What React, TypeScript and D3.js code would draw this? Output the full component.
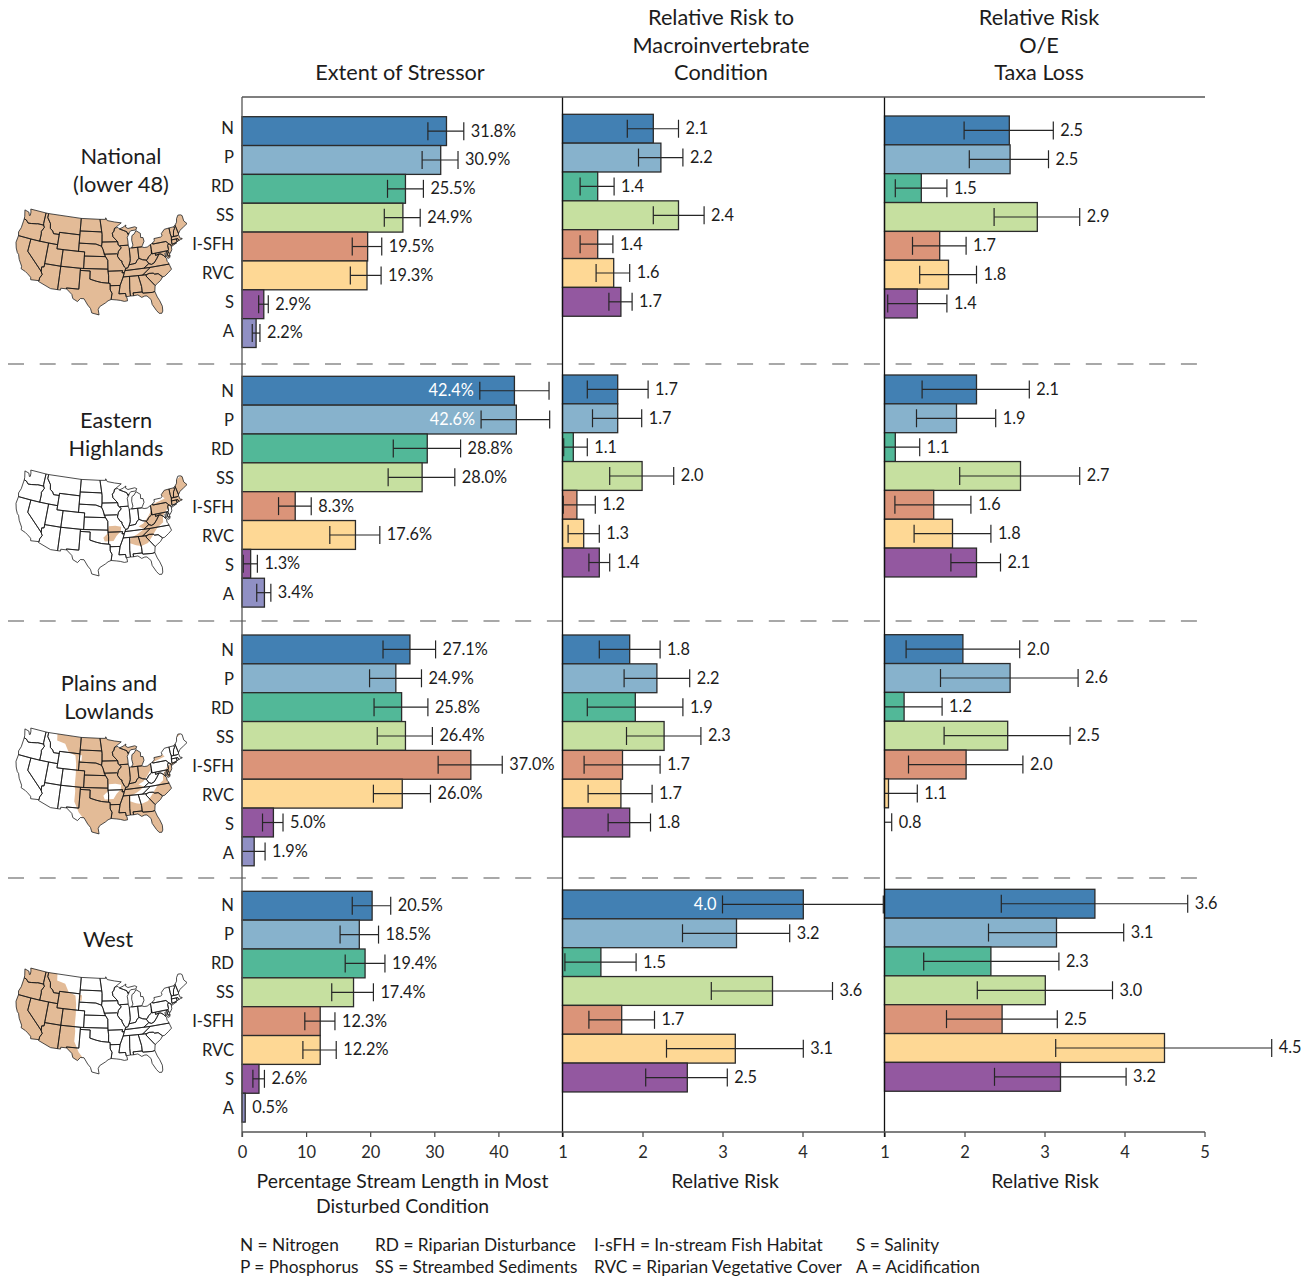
/**
 * Stressor extent and relative risk bars, by region, drawn with D3
 */

import React, { useEffect, useRef } from 'react';
import * as d3 from 'd3';

type Row = [number, number | null, number | null, string]; // bar, low, high, label

const stressors = ['N', 'P', 'RD', 'SS', 'I-SFH', 'RVC', 'S', 'A'];
const stressorColors = ['#4280b3', '#87b2cc', '#52b898', '#c6e0a0', '#db9479', '#fed895', '#9358a0', '#9090c4'];

const extentTicks = [0, 10, 20, 30, 40];
const macroTicks = [1, 2, 3, 4];
const taxaTicks = [1, 2, 3, 4, 5];

const nationalExtent: Row[] = [
  [31.9, 29.0, 34.6, '31.8%'], [31.0, 28.1, 33.7, '30.9%'], [25.5, 22.7, 28.3, '25.5%'], [25.1, 22.2, 27.8, '24.9%'],
  [19.6, 17.2, 21.8, '19.5%'], [19.5, 16.9, 21.7, '19.3%'], [3.4, 2.6, 4.1, '2.9%'], [2.2, 1.6, 2.8, '2.2%'],
];
const easternExtent: Row[] = [
  [42.5, 37.1, 47.9, '42.4%'], [42.8, 37.3, 48.0, '42.6%'], [28.9, 23.6, 34.1, '28.8%'], [28.1, 22.8, 33.2, '28.0%'],
  [8.3, 5.7, 10.8, '8.3%'], [17.7, 13.7, 21.5, '17.6%'], [1.35, 0.2, 2.4, '1.3%'], [3.5, 2.3, 4.5, '3.4%'],
];
const plainsExtent: Row[] = [
  [26.2, 22.0, 30.2, '27.1%'], [24.0, 19.9, 28.0, '24.9%'], [24.9, 20.6, 29.0, '25.8%'], [25.5, 21.1, 29.7, '26.4%'],
  [35.7, 30.6, 40.6, '37.0%'], [25.0, 20.5, 29.4, '26.0%'], [4.9, 3.2, 6.4, '5.0%'], [1.9, 0, 3.6, '1.9%'],
];
const westExtent: Row[] = [
  [20.3, 17.2, 23.2, '20.5%'], [18.3, 15.3, 21.3, '18.5%'], [19.2, 16.1, 22.3, '19.4%'], [17.4, 14.0, 20.5, '17.4%'],
  [12.2, 9.8, 14.5, '12.3%'], [12.2, 9.5, 14.7, '12.2%'], [2.65, 1.7, 3.5, '2.6%'], [0.5, null, null, '0.5%'],
];

const nationalMacro: Row[] = [
  [2.135, 1.81, 2.45, '2.1'], [2.23, 1.95, 2.505, '2.2'], [1.44, 1.22, 1.645, '1.4'], [2.45, 2.135, 2.77, '2.4'],
  [1.44, 1.22, 1.63, '1.4'], [1.64, 1.42, 1.84, '1.6'], [1.73, 1.58, 1.87, '1.7'],
];
const easternMacro: Row[] = [
  [1.69, 1.31, 2.07, '1.7'], [1.69, 1.375, 1.99, '1.7'], [1.135, 1.015, 1.31, '1.1'], [1.995, 1.59, 2.39, '2.0'],
  [1.18, 1.01, 1.41, '1.2'], [1.265, 1.07, 1.46, '1.3'], [1.46, 1.33, 1.59, '1.4'],
];
const plainsMacro: Row[] = [
  [1.84, 1.46, 2.22, '1.8'], [2.18, 1.77, 2.59, '2.2'], [1.91, 1.31, 2.505, '1.9'], [2.27, 1.80, 2.73, '2.3'],
  [1.75, 1.27, 2.22, '1.7'], [1.73, 1.32, 2.12, '1.7'], [1.84, 1.57, 2.10, '1.8'],
];
const westMacro: Row[] = [
  [4.01, 3.0, 5.01, '4.0'], [3.175, 2.5, 3.84, '3.2'], [1.48, 1.03, 1.92, '1.5'], [3.625, 2.86, 4.375, '3.6'],
  [1.74, 1.33, 2.15, '1.7'], [3.16, 2.30, 4.01, '3.1'], [2.56, 2.04, 3.06, '2.5'],
];

const nationalTaxa: Row[] = [
  [2.56, 1.995, 3.11, '2.5'], [2.57, 2.06, 3.05, '2.5'], [1.46, 1.135, 1.78, '1.5'], [2.91, 2.37, 3.44, '2.9'],
  [1.69, 1.35, 2.02, '1.7'], [1.80, 1.44, 2.15, '1.8'], [1.41, 1.04, 1.78, '1.4'],
];
const easternTaxa: Row[] = [
  [2.15, 1.47, 2.81, '2.1'], [1.90, 1.40, 2.39, '1.9'], [1.135, 0.9, 1.44, '1.1'], [2.70, 1.94, 3.44, '2.7'],
  [1.615, 1.13, 2.08, '1.6'], [1.85, 1.37, 2.33, '1.8'], [2.15, 1.83, 2.45, '2.1'],
];
const plainsTaxa: Row[] = [
  [1.98, 1.27, 2.69, '2.0'], [2.57, 1.70, 3.42, '2.6'], [1.245, 0.9, 1.72, '1.2'], [2.54, 1.745, 3.32, '2.5'],
  [2.02, 1.30, 2.73, '2.0'], [1.05, 0.9, 1.41, '1.1'], [0.8, 0.7, 1.09, '0.8'],
];
const westTaxa: Row[] = [
  [3.63, 2.46, 4.79, '3.6'], [3.15, 2.30, 3.99, '3.1'], [2.33, 1.49, 3.18, '2.3'], [3.01, 2.16, 3.85, '3.0'],
  [2.47, 1.775, 3.16, '2.5'], [4.5, 3.14, 5.84, '4.5'], [3.2, 2.375, 4.02, '3.2'],
];

// labels that sit inside the bar, to the left of the interval
const insideLabels = ['42.4%', '42.6%', '4.0'];

const regionTitles = [['National', '(lower 48)'], ['Eastern', 'Highlands'], ['Plains and', 'Lowlands'], ['West']];
const legendColumns = [
  ['N = Nitrogen', 'P = Phosphorus'],
  ['RD = Riparian Disturbance', 'SS = Streambed Sediments'],
  ['I-sFH = In-stream Fish Habitat', 'RVC = Riparian Vegetative Cover'],
  ['S = Salinity', 'A = Acidification'],
];

// state outlines, lon/lat
const stateRings: number[][][] = [
  [[-124.7,48.4],[-123.1,48.15],[-122.6,47.4],[-122.3,47.5],[-122.4,48.3],[-122.75,49],[-117.03,49],[-117.04,46.4],[-116.92,45.99],[-118.98,46],[-119.3,45.93],[-121.2,45.65],[-122.3,45.55],[-122.8,45.9],[-123.2,46.15],[-124,46.27],[-124.1,46.9]],
  [[-124,46.27],[-123.2,46.15],[-122.8,45.9],[-122.3,45.55],[-121.2,45.65],[-119.3,45.93],[-118.98,46],[-116.92,45.99],[-116.5,45.5],[-117.2,44.4],[-117.03,43.8],[-117.03,42],[-124.2,42],[-124.55,42.85],[-124.1,44]],
  [[-124.2,42],[-120,42],[-120,39],[-114.63,35],[-114.15,34.3],[-114.7,33.4],[-114.72,32.72],[-117.12,32.53],[-117.3,33.1],[-118.4,33.75],[-119.2,34.15],[-120.6,34.55],[-120.65,35.15],[-121.9,36.6],[-122.5,37.7],[-123,38],[-123.75,39],[-124.35,40.3]],
  [[-120,42],[-114.04,42],[-114.04,36.2],[-114.73,36.1],[-114.63,35],[-120,39]],
  [[-117.03,49],[-116.05,49],[-116.05,48],[-114.7,46.7],[-114.4,45.55],[-113.45,45.05],[-113,44.45],[-111.05,44.48],[-111.05,42],[-117.03,42],[-117.03,43.8],[-117.2,44.4],[-116.5,45.5],[-116.92,45.99],[-117.04,46.4]],
  [[-116.05,49],[-104.05,49],[-104.05,45],[-111.05,45],[-111.05,44.48],[-113,44.45],[-113.45,45.05],[-114.4,45.55],[-114.7,46.7],[-116.05,48]],
  [[-111.05,45],[-104.05,45],[-104.05,41],[-111.05,41]],
  [[-114.04,42],[-111.05,42],[-111.05,41],[-109.05,41],[-109.05,37],[-114.04,37]],
  [[-114.04,37],[-109.05,37],[-109.05,31.33],[-111.07,31.33],[-114.8,32.5],[-114.72,32.72],[-114.7,33.4],[-114.15,34.3],[-114.63,35],[-114.73,36.1],[-114.04,36.2]],
  [[-109.05,41],[-102.05,41],[-102.05,37],[-109.05,37]],
  [[-109.05,37],[-103,37],[-103.04,32],[-106.62,32],[-106.53,31.78],[-108.2,31.78],[-108.2,31.33],[-109.05,31.33]],
  [[-104.05,49],[-97.23,49],[-96.56,45.94],[-104.05,45.94]],
  [[-104.05,45.94],[-96.56,45.94],[-96.45,45.3],[-96.45,43.5],[-96.6,42.5],[-98.5,43],[-104.05,43]],
  [[-104.05,43],[-98.5,43],[-96.6,42.5],[-96.1,41.7],[-95.31,40],[-102.05,40],[-102.05,41],[-104.05,41]],
  [[-102.05,40],[-95.31,40],[-94.62,39.1],[-94.62,37],[-102.05,37]],
  [[-103,37],[-94.62,37],[-94.43,35.4],[-94.48,33.64],[-96.5,33.8],[-98.1,34.1],[-100,34.56],[-100,36.5],[-103,36.5]],
  [[-106.62,32],[-103.04,32],[-103,36.5],[-100,36.5],[-100,34.56],[-98.1,34.1],[-96.5,33.8],[-94.48,33.64],[-94.04,33.55],[-94.04,31.99],[-93.55,31.2],[-93.84,29.7],[-94.7,29.4],[-95.4,28.9],[-97,28],[-97.4,27.3],[-97.15,25.97],[-99.1,26.4],[-99.5,27.5],[-100.3,28.3],[-101.4,29.77],[-102.4,29.77],[-103.15,28.98],[-104.5,29.6],[-104.9,30.6],[-106.53,31.78]],
  [[-97.23,49],[-95.15,49],[-95.15,49.38],[-94.6,48.7],[-92,48.3],[-89.6,48],[-92.1,46.75],[-92.3,46.1],[-92.9,45.6],[-92.75,44.75],[-91.22,43.5],[-96.45,43.5],[-96.45,45.3],[-96.56,45.94]],
  [[-96.45,43.5],[-91.22,43.5],[-91.1,42.7],[-90.15,42],[-91.1,41.2],[-91.42,40.38],[-91.73,40.61],[-95.77,40.58],[-96.1,41.7],[-96.6,42.5]],
  [[-95.77,40.58],[-91.73,40.61],[-91.42,40.38],[-91.5,40],[-90.7,39],[-90.18,38.8],[-90.2,38.4],[-89.5,37.3],[-89.15,37],[-89.7,36],[-90.37,36],[-90.15,36.5],[-94.62,36.5],[-94.62,39.1],[-95.31,40]],
  [[-94.62,36.5],[-90.15,36.5],[-90.37,36],[-89.7,36],[-90.1,35],[-91.15,33],[-94.04,33.02],[-94.04,33.55],[-94.48,33.64],[-94.43,35.4]],
  [[-94.04,33.02],[-91.15,33],[-91.6,31],[-89.73,31],[-89.6,30.2],[-89.4,29.9],[-89.3,29.2],[-90.2,29.1],[-91.3,29.4],[-92.3,29.55],[-93.84,29.7],[-93.55,31.2],[-94.04,31.99]],
  [[-92.3,46.1],[-92.1,46.75],[-90.9,46.95],[-90.4,46.55],[-89.1,46.15],[-87.9,45.75],[-87.6,45.1],[-87.1,45.3],[-87.9,44.4],[-87.8,43.5],[-87.8,42.5],[-90.64,42.5],[-91.1,42.7],[-91.22,43.5],[-92.75,44.75],[-92.9,45.6]],
  [[-90.64,42.5],[-87.8,42.5],[-87.55,41.7],[-87.53,39.3],[-87.6,38.7],[-88.05,37.8],[-88.5,37.1],[-89.15,37],[-89.5,37.3],[-90.2,38.4],[-90.18,38.8],[-90.7,39],[-91.5,40],[-91.42,40.38],[-91.1,41.2],[-90.15,42]],
  [[-87.55,41.7],[-87.2,41.75],[-86.8,41.76],[-84.8,41.76],[-84.82,39.1],[-85.4,38.7],[-86,38],[-87,37.9],[-88.05,37.8],[-87.6,38.7],[-87.53,39.3]],
  [[-84.8,41.76],[-83.45,41.73],[-82.7,41.5],[-81.7,41.5],[-80.52,41.98],[-80.52,40.64],[-80.7,39.7],[-81.7,39.2],[-82.2,38.6],[-82.6,38.45],[-83.7,38.65],[-84.82,39.1]],
  [[-86.8,41.76],[-84.8,41.76],[-83.45,41.73],[-83.15,42.1],[-82.45,43],[-82.6,43.9],[-83.4,44],[-83.3,45],[-84.7,45.78],[-85.5,45],[-86.25,44.7],[-86.5,43.6],[-86.25,42.4]],
  [[-90.4,46.55],[-89.1,46.9],[-88,47.4],[-88.2,46.9],[-87.4,46.5],[-85,46.75],[-84.3,46.5],[-84.7,45.95],[-86.5,45.9],[-87.6,45.1],[-87.9,45.75],[-89.1,46.15]],
  [[-89.15,37],[-88.5,37.1],[-88.05,37.8],[-87,37.9],[-86,38],[-85.4,38.7],[-84.82,39.1],[-83.7,38.65],[-82.6,38.45],[-81.97,37.54],[-83.67,36.6],[-88.07,36.5],[-89.42,36.5]],
  [[-89.42,36.5],[-83.67,36.6],[-81.68,36.59],[-84.32,34.99],[-90.1,35],[-89.7,36]],
  [[-90.1,35],[-88.2,35],[-88.45,31.9],[-88.4,30.3],[-89.6,30.2],[-89.73,31],[-91.6,31],[-91.15,33]],
  [[-88.2,35],[-85.6,35],[-85,32.3],[-85,31],[-87.6,31],[-87.5,30.3],[-88.4,30.3],[-88.45,31.9]],
  [[-85.6,35],[-83.1,35],[-83.35,34.7],[-81.1,32.1],[-81.45,30.7],[-82.2,30.57],[-84.86,30.7],[-85,31],[-85,32.3]],
  [[-87.6,31],[-85,31],[-84.86,30.7],[-82.2,30.57],[-81.45,30.7],[-81,29.3],[-80.5,28.3],[-80.05,26.9],[-80.15,25.7],[-80.5,25.2],[-81.2,25.3],[-81.8,26.1],[-82.7,27.7],[-82.8,28.9],[-83.8,29.9],[-84.4,29.95],[-85.3,29.7],[-86.3,30.4],[-87.5,30.3]],
  [[-83.35,34.7],[-83.1,35],[-82.3,35.2],[-81,35.1],[-80.8,34.82],[-79.67,34.8],[-78.55,33.86],[-79.3,33.1],[-80.4,32.5],[-81.1,32.1]],
  [[-84.32,34.99],[-81.68,36.59],[-75.9,36.55],[-75.5,35.25],[-76.5,34.65],[-77.9,33.9],[-78.55,33.86],[-79.67,34.8],[-80.8,34.82],[-81,35.1],[-82.3,35.2],[-83.1,35]],
  [[-83.67,36.6],[-81.97,37.54],[-81.2,37.25],[-80.3,37.5],[-79.3,38.4],[-78.35,39.4],[-77.75,39.3],[-77.1,38.9],[-76.3,38],[-76.3,37.3],[-76,36.9],[-75.9,36.55],[-81.68,36.59]],
  [[-82.6,38.45],[-82.2,38.6],[-81.7,39.2],[-80.7,39.7],[-80.52,40.64],[-80.52,39.72],[-79.48,39.72],[-79.48,39.2],[-78.35,39.4],[-79.3,38.4],[-80.3,37.5],[-81.2,37.25],[-81.97,37.54]],
  [[-80.52,41.98],[-79.76,42.27],[-79.76,42],[-75.35,42],[-74.7,41.36],[-75.1,40.95],[-75.1,40],[-75.4,39.8],[-80.52,39.72],[-80.52,40.64]],
  [[-79.76,42.27],[-79.05,42.7],[-79.05,43.25],[-76.8,43.3],[-76.2,43.55],[-76.3,44.1],[-75,44.95],[-73.35,45],[-73.4,43.6],[-73.27,42.75],[-73.5,42.05],[-73.65,41],[-72,41.1],[-73.9,40.55],[-74,40.9],[-74.7,41.36],[-75.35,42],[-79.76,42]],
  [[-74.7,41.36],[-74,40.9],[-74,40.5],[-74.1,39.75],[-74.9,38.95],[-75.5,39.5],[-75.1,40],[-75.1,40.95]],
  [[-75.8,39.72],[-75.4,39.8],[-75.05,38.45],[-75.7,38.45]],
  [[-79.48,39.72],[-75.8,39.72],[-75.7,38.45],[-75.05,38.45],[-75.25,38.03],[-75.9,37.95],[-76.2,38.6],[-76.1,39.4],[-76.5,39.2],[-76.4,38.3],[-77.1,38.9],[-77.75,39.3],[-78.35,39.4],[-79.48,39.2]],
  [[-73.5,42.05],[-71.8,42.02],[-71.85,41.32],[-73.65,41]],
  [[-71.8,42.02],[-71.38,42.02],[-71.15,41.5],[-71.85,41.32]],
  [[-73.5,42.05],[-73.27,42.75],[-71.3,42.7],[-70.8,42.87],[-70.6,41.95],[-70,41.8],[-69.95,41.65],[-70.6,41.6],[-71.15,41.5],[-71.38,42.02],[-71.8,42.02]],
  [[-73.35,45],[-71.5,45],[-71.6,44.5],[-72.05,44.1],[-72.45,43.1],[-72.46,42.73],[-73.27,42.75],[-73.4,43.6]],
  [[-71.5,45],[-71.1,45.3],[-70.7,43.1],[-70.8,42.87],[-71.3,42.7],[-72.46,42.73],[-72.45,43.1],[-72.05,44.1],[-71.6,44.5]],
  [[-71.1,45.3],[-70.3,45.9],[-70,46.7],[-69.2,47.45],[-68.3,47.35],[-67.8,47.05],[-67.8,45.7],[-67,44.85],[-68.5,44.3],[-70,43.75],[-70.7,43.1]],
];

// ecoregion outlines, lon/lat (rough, clipped to the states)
const westAreas: number[][][] = [
  [[-126,50],[-113,50],[-112.5,47.5],[-109.5,47],[-108,45.2],[-105.5,44.5],[-105,42.5],[-104.8,40],[-104.8,37.5],[-104.5,36],[-104.5,33.5],[-103,31],[-101.5,29.5],[-102,25],[-126,25]],
  [[-104.3,44.7],[-103.3,44.7],[-103.3,43.4],[-104.3,43.4]],
];
const easternAreas: number[][][] = [
  [[-66,48],[-72,46],[-75,45.5],[-76.5,44],[-75.5,43],[-78.8,42.4],[-80.3,42],[-80.8,40.5],[-82,39.3],[-83.6,38],[-85.2,37.4],[-83.5,36.7],[-85.8,35.6],[-88,34.8],[-88.2,33.6],[-86.5,33],[-85,32.7],[-83,33.2],[-81.5,34.6],[-80.5,35.6],[-79.5,36.5],[-77.5,37.5],[-77.2,38.9],[-75.6,40.3],[-74.3,41],[-72,41.4],[-70,41.5],[-69,43],[-66,44]],
  [[-94.3,37.9],[-92.3,38],[-90.5,37.7],[-90.7,36.6],[-92,35.6],[-93,34.4],[-95.6,34.3],[-96,35.2],[-94.7,36.2]],
];

const fontFamily = 'Lato, "Noto Sans", sans-serif';

const App: React.FC = () => {
  const svgRef = useRef<SVGSVGElement>(null);

  useEffect(() => {
    if (!svgRef.current) return;
    const svg = d3.select(svgRef.current);
    svg.selectAll('*').remove();

    const step = 28.85;
    const axisY = 1132;
    const topY = 97;
    const darkStroke = '#2b2b2b';

    const text = (x: number, y: number, s: string, size: number, anchor = 'middle', fill = '#1c1c1c') =>
      svg.append('text')
        .attr('x', x).attr('y', y).text(s)
        .attr('text-anchor', anchor)
        .style('font-size', `${size}px`).style('fill', fill);

    svg.style('font-family', fontFamily);

    // Dashed region separators
    [364, 621, 878].forEach((y) => {
      svg.append('line')
        .attr('x1', 8).attr('x2', 1205).attr('y1', y).attr('y2', y)
        .attr('stroke', '#a8a8a8').attr('stroke-width', 2).attr('stroke-dasharray', '16 15.7');
    });

    // Panels
    const panels = [
      { scale: d3.scaleLinear().domain([0, 50]).range([242, 562.5]), ticks: extentTicks, tops: [116.7, 376.3, 635, 891.3], rows: [nationalExtent, easternExtent, plainsExtent, westExtent] },
      { scale: d3.scaleLinear().domain([1, 5]).range([562.5, 882.5]), ticks: macroTicks, tops: [114.3, 375, 635, 890], rows: [nationalMacro, easternMacro, plainsMacro, westMacro] },
      { scale: d3.scaleLinear().domain([1, 5]).range([884.5, 1204.5]), ticks: taxaTicks, tops: [116, 375, 634.7, 889.3], rows: [nationalTaxa, easternTaxa, plainsTaxa, westTaxa] },
    ];

    panels.forEach((panel) => {
      const x = panel.scale;
      const x0 = x.domain()[0];
      panel.rows.forEach((rows, r) => {
        const y = d3.scaleBand<string>()
          .domain(stressors)
          .range([panel.tops[r], panel.tops[r] + step * stressors.length]);
        const g = svg.append('g');

        // Bars
        g.selectAll('rect')
          .data(rows.filter((d) => d[0] > x0))
          .enter()
          .append('rect')
          .attr('x', x(x0))
          .attr('y', (_, i) => y(stressors[i]) as number)
          .attr('width', (d) => x(d[0]) - x(x0))
          .attr('height', y.bandwidth())
          .attr('fill', (_, i) => stressorColors[i])
          .attr('stroke', darkStroke)
          .attr('stroke-width', 1.3);

        // Intervals and labels
        rows.forEach((d, i) => {
          const [value, low, high, label] = d;
          const cy = (y(stressors[i]) as number) + y.bandwidth() / 2;
          if (low !== null && high !== null) {
            g.append('line')
              .attr('x1', x(Math.max(low, x0))).attr('x2', x(high)).attr('y1', cy).attr('y2', cy)
              .attr('stroke', '#262626').attr('stroke-width', 1.2);
            const caps = low >= x0 && low > 0 ? [low, high] : [high];
            caps.forEach((c) => {
              g.append('line')
                .attr('x1', x(c)).attr('x2', x(c)).attr('y1', cy - 9).attr('y2', cy + 9)
                .attr('stroke', '#262626').attr('stroke-width', 1.2);
            });
          }
          const inside = insideLabels.includes(label) && low !== null;
          g.append('text')
            .attr('x', inside ? x(low as number) - 6 : x(high ?? value) + 7)
            .attr('y', cy)
            .attr('dy', '0.33em')
            .attr('text-anchor', inside ? 'end' : 'start')
            .style('font-size', '16.3px')
            .style('fill', inside ? '#fff' : '#1c1c1c')
            .text(label);
        });
      });

      // Bottom axis
      const axis = svg.append('g')
        .attr('transform', `translate(0,${axisY})`)
        .call(d3.axisBottom(x).tickValues(panel.ticks).tickSize(5).tickPadding(9).tickFormat(d3.format('d')));
      axis.select('.domain').remove();
      axis.selectAll('.tick line').attr('stroke', '#444').attr('stroke-width', 1.2);
      axis.selectAll('.tick text')
        .style('font-family', fontFamily).style('font-size', '16.5px').style('fill', '#2a2a2a');
    });

    // Frame lines
    [[242, '#555'], [562.5, '#111'], [884.5, '#111']].forEach(([x, color]) => {
      svg.append('line')
        .attr('x1', x as number).attr('x2', x as number).attr('y1', topY).attr('y2', axisY + 5)
        .attr('stroke', color as string).attr('stroke-width', 1.3);
    });
    [topY, axisY].forEach((y) => {
      svg.append('line')
        .attr('x1', 242).attr('x2', 1205).attr('y1', y).attr('y2', y)
        .attr('stroke', '#555').attr('stroke-width', 1.3);
    });

    // Stressor labels for each region
    [128, 391, 650, 905].forEach((start) => {
      const labelScale = d3.scalePoint<string>().domain(stressors).range([start, start + 29 * 7]);
      stressors.forEach((s) => {
        text(234, labelScale(s) as number, s, 16.6, 'end', '#222').attr('dy', '0.36em');
      });
    });

    // Headers
    text(400, 80, 'Extent of Stressor', 21.7);
    ['Relative Risk to', 'Macroinvertebrate', 'Condition'].forEach((s, i) => text(721, 25 + i * 27.5, s, 21.7));
    ['Relative Risk', 'O/E', 'Taxa Loss'].forEach((s, i) => text(1039, 25 + i * 27.5, s, 21.7));

    // Region titles
    const titleX = [121, 116, 109, 108];
    const titleY = [164, 428, 691, 947];
    regionTitles.forEach((lines, r) => {
      lines.forEach((s, i) => text(titleX[r], titleY[r] + i * 28, s, 21.8));
    });

    // Axis titles and legend
    text(402.5, 1188, 'Percentage Stream Length in Most', 19.4);
    text(402.5, 1213, 'Disturbed Condition', 19.4);
    text(725, 1188, 'Relative Risk', 19.4);
    text(1045, 1188, 'Relative Risk', 19.4);
    const legendX = [240, 375, 594, 856];
    legendColumns.forEach((lines, c) => {
      lines.forEach((s, i) => text(legendX[c], 1251 + i * 22, s, 17.3, 'start'));
    });

    // Maps
    const projection = d3.geoAlbers()
      .fitExtent([[0, 0], [171, 106]], { type: 'MultiPoint', coordinates: stateRings.flat() } as any);
    const ringPath = (ring: number[][]) =>
      d3.line().curve(d3.curveLinearClosed)(ring.map((p) => projection(p as [number, number]) as [number, number])) as string;
    const tan = '#e3bb97';
    const defs = svg.append('defs');
    defs.append('clipPath').attr('id', 'usClip')
      .selectAll('path').data(stateRings).enter().append('path').attr('d', ringPath);

    const drawMap = (top: number, region: 'all' | 'east' | 'plains' | 'west') => {
      const g = svg.append('g').attr('transform', `translate(16,${top})`);
      const shade = g.append('g').attr('clip-path', 'url(#usClip)');
      const base = region === 'all' || region === 'plains' ? tan : '#fff';
      shade.selectAll('path.state').data(stateRings).enter().append('path')
        .attr('class', 'state').attr('d', ringPath).attr('fill', base);
      const areas = region === 'plains' ? [...westAreas, ...easternAreas] : region === 'east' ? easternAreas : region === 'west' ? westAreas : [];
      shade.selectAll('path.area').data(areas).enter().append('path')
        .attr('class', 'area').attr('d', ringPath)
        .attr('fill', region === 'plains' ? '#fff' : tan);
      g.selectAll('path.line').data(stateRings).enter().append('path')
        .attr('class', 'line').attr('d', ringPath)
        .attr('fill', 'none').attr('stroke', '#111').attr('stroke-width', 0.75)
        .attr('stroke-linejoin', 'round');
    };
    drawMap(209, 'all');
    drawMap(470, 'east');
    drawMap(728, 'plains');
    drawMap(968, 'west');

    return () => {
      svg.selectAll('*').remove();
    };
  }, []);

  return (
    <svg
      ref={svgRef}
      width={1316}
      height={1278}
      style={{ position: 'absolute', left: 0, top: 0, background: '#fff' }}
    />
  );
};

export default App;
